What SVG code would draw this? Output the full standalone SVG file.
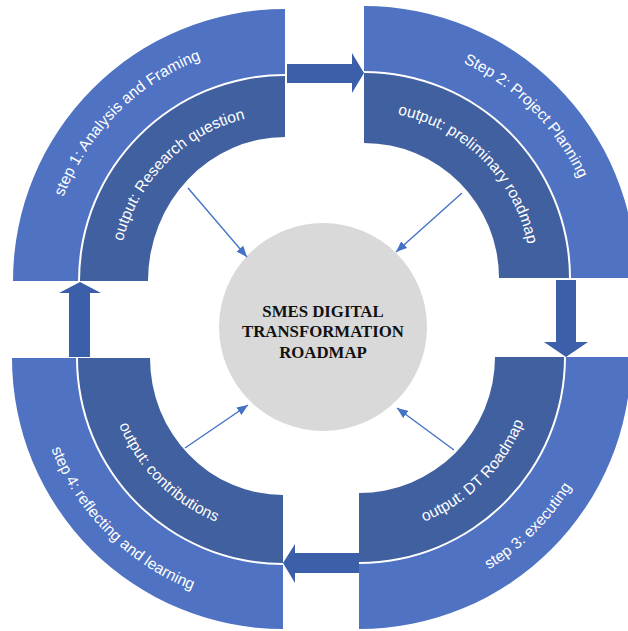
<svg xmlns="http://www.w3.org/2000/svg" width="628" height="631" viewBox="0 0 628 631">
<style>
.outer{fill:#4f72c3}
.inner{fill:#41609f}
.lbl{font-family:"Liberation Sans",Arial,sans-serif;font-size:15.6px;fill:#ffffff}
.block{fill:#3c5fa9}
.thin{stroke:#4472c4;stroke-width:1.4;fill:none}
.title{font-family:"Liberation Serif","Times New Roman",serif;font-size:16.8px;font-weight:bold;fill:#111111}
</style>
<defs>
<marker id="ah" markerUnits="userSpaceOnUse" markerWidth="11" markerHeight="9" refX="11" refY="4.5" orient="auto">
<path d="M0,0 L11,4.5 L0,9 Z" fill="#4472c4"/>
</marker>
<path id="t1o" d="M48,281 A237 237 0 0 1 285,44"/>
<path id="t1i" d="M118,281 A167 167 0 0 1 285,114"/>
<path id="t2o" d="M364,41 A237 237 0 0 1 601,278"/>
<path id="t2i" d="M364,111 A167 167 0 0 1 531,278"/>
<path id="t3o" d="M359,606 A249 249 0 0 0 608,357"/>
<path id="t3i" d="M359,534 A177 177 0 0 0 536,357"/>
<path id="t4o" d="M34,358 A249 249 0 0 0 283,607"/>
<path id="t4i" d="M106,358 A177 177 0 0 0 283,535"/>
</defs>
<rect width="628" height="631" fill="#ffffff"/>
<g id="q1">
<path class="outer" d="M285,9 A272 272 0 0 0 13,281 L78,281 A207 207 0 0 1 285,74 Z"/>
<path class="inner" d="M285,76 A205 205 0 0 0 80,281 L148,281 A137 144 0 0 1 285,137 Z"/>
<text class="lbl"><textPath href="#t1o" startOffset="50%" text-anchor="middle">step 1: Analysis and Framing</textPath></text>
<text class="lbl"><textPath href="#t1i" startOffset="50%" text-anchor="middle">output: Research question</textPath></text>
</g>
<g id="q2">
<path class="outer" d="M364,6 A272 272 0 0 1 636,278 L571,278 A207 207 0 0 0 364,71 Z"/>
<path class="inner" d="M364,73 A205 205 0 0 1 569,278 L499,278 A135 135 0 0 0 364,143 Z"/>
<text class="lbl"><textPath href="#t2o" startOffset="50%" text-anchor="middle">Step 2: Project Planning</textPath></text>
<text class="lbl"><textPath href="#t2i" startOffset="50%" text-anchor="middle">output: preliminary roadmap</textPath></text>
</g>
<g id="q3">
<path class="outer" d="M359,629 A272 272 0 0 0 631,357 L566,357 A207 207 0 0 1 359,564 Z"/>
<path class="inner" d="M564,357 A205 205 0 0 1 359,562 L359,493 A136 136 0 0 0 495,357 Z"/>
<text class="lbl"><textPath href="#t3o" startOffset="50%" text-anchor="middle">step 3: executing</textPath></text>
<text class="lbl"><textPath href="#t3i" startOffset="50%" text-anchor="middle">output: DT Roadmap</textPath></text>
</g>
<g id="q4">
<path class="outer" d="M12,358 A271 271 0 0 0 283,629 L283,565 A207 207 0 0 1 76,358 Z"/>
<path class="inner" d="M78,358 A205 205 0 0 0 283,563 L283,495 A133 137 0 0 1 150,358 Z"/>
<text class="lbl"><textPath href="#t4o" startOffset="50%" text-anchor="middle">step 4: reflecting and learning</textPath></text>
<text class="lbl"><textPath href="#t4i" startOffset="50%" text-anchor="middle">output: contributions</textPath></text>
</g>
<g id="center">
<circle cx="323" cy="327" r="104" fill="#d9d9d9"/>
<text class="title" x="323" y="316.5" text-anchor="middle">SMES DIGITAL</text>
<text class="title" x="323" y="337" text-anchor="middle">TRANSFORMATION</text>
<text class="title" x="323" y="357.5" text-anchor="middle">ROADMAP</text>
</g>
<g id="connectors">
<polygon class="block" points="287,64 352,64 352,53 364,73 352,93 352,83 287,83"/>
<polygon class="block" points="556,280 576,280 576,342 588,342 566,357 544,342 556,342"/>
<polygon class="block" points="359,553 359,573 295,573 295,583 283,563 295,544 295,553"/>
<polygon class="block" points="69,357 90,357 90,293 101,293 80,282 59,293 69,293"/>
<line class="thin" x1="188" y1="188" x2="247" y2="257" marker-end="url(#ah)"/>
<line class="thin" x1="462" y1="193" x2="396" y2="252" marker-end="url(#ah)"/>
<line class="thin" x1="454" y1="450" x2="397" y2="408" marker-end="url(#ah)"/>
<line class="thin" x1="185" y1="448" x2="248" y2="405" marker-end="url(#ah)"/>
</g>
</svg>
